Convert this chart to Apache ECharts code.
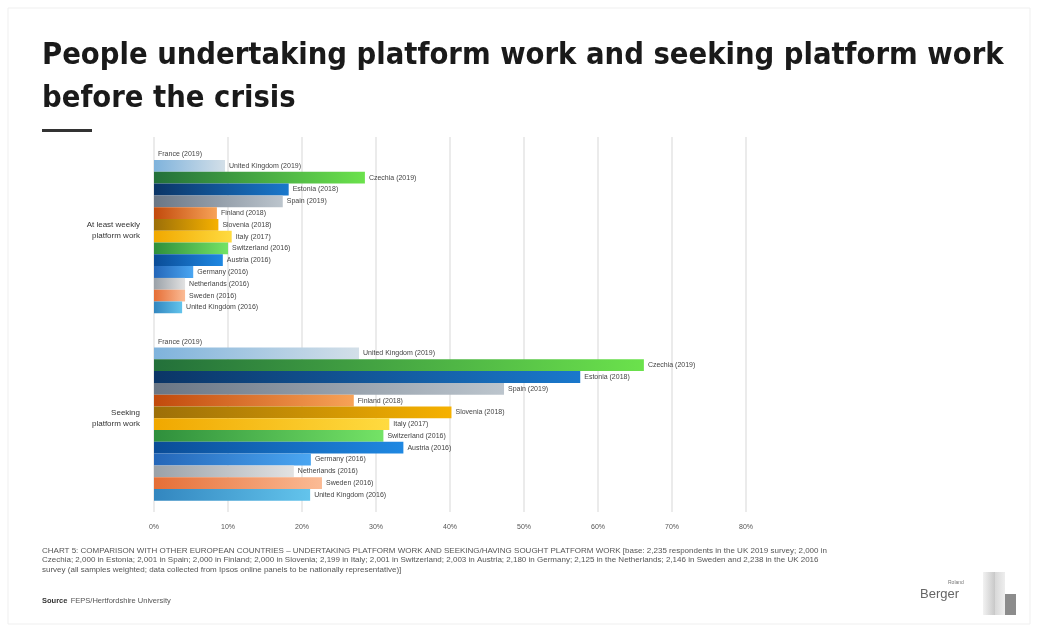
<!DOCTYPE html>
<html>
<head>
<meta charset="utf-8">
<script src="https://cdn.jsdelivr.net/npm/echarts@6/dist/echarts.min.js"></script>
<style>
html,body{margin:0;padding:0;background:#fff;}
#chart{width:1039px;height:631px;}
</style>
</head>
<body>
<div id="chart"></div>
<script>
// ---- data ----
const groups = ["At least weekly\nplatform work", "Seeking\nplatform work"];
const countries = ["France (2019)", "United Kingdom (2019)", "Czechia (2019)", "Estonia (2018)", "Spain (2019)",
  "Finland (2018)", "Slovenia (2018)", "Italy (2017)", "Switzerland (2016)", "Austria (2016)",
  "Germany (2016)", "Netherlands (2016)", "Sweden (2016)", "United Kingdom (2016)"];
const weeklyValues = [0, 9.6, 28.5, 18.2, 17.4, 8.5, 8.7, 10.5, 10.0, 9.3, 5.3, 4.2, 4.2, 3.8];
const seekingValues = [0, 27.7, 66.2, 57.6, 47.3, 27.0, 40.2, 31.8, 31.0, 33.7, 21.2, 18.9, 22.7, 21.1];
const xTicks = [0, 10, 20, 30, 40, 50, 60, 70, 80];

// ---- styles ----
const gradients = [
  ["#e8eef3", "#f4f6f8"],
  ["#7fb3dc", "#d3dfe8"],
  ["#23703a", "#6be24c"],
  ["#0b3566", "#1a78cc"],
  ["#6a7685", "#bcc5cd"],
  ["#c24a0c", "#f7a257"],
  ["#9c6f08", "#f6b100"],
  ["#f0a800", "#ffdb40"],
  ["#2f8f3c", "#74e366"],
  ["#0a4c97", "#1f88e2"],
  ["#2466b8", "#4aa6f2"],
  ["#9aa1a8", "#e2e2e2"],
  ["#e56e36", "#fbbb95"],
  ["#3286bf", "#63c4ec"]
];

const chart = echarts.init(document.getElementById('chart'));

const series = countries.map((name, i) => ({
  name: name,
  type: 'bar',
  barGap: '0%',
  barCategoryGap: '12%',
  data: [weeklyValues[i], seekingValues[i]],
  itemStyle: {
    color: new echarts.graphic.LinearGradient(0, 0, 1, 0, [
      { offset: 0, color: gradients[i][0] },
      { offset: 1, color: gradients[i][1] }
    ])
  },
  label: {
    show: true,
    position: 'right',
    distance: 4,
    formatter: name,
    fontSize: 7,
    color: '#444',
    fontFamily: 'Liberation Sans'
  },
  silent: true,
  animation: false
}));

const footnote =
"CHART 5: COMPARISON WITH OTHER EUROPEAN COUNTRIES – UNDERTAKING PLATFORM WORK AND SEEKING/HAVING SOUGHT PLATFORM WORK [base: 2,235 respondents in the UK 2019 survey; 2,000 in\n" +
"Czechia; 2,000 in Estonia; 2,001 in Spain; 2,000 in Finland; 2,000 in Slovenia; 2,199 in Italy; 2,001 in Switzerland; 2,003 in Austria; 2,180 in Germany; 2,125 in the Netherlands; 2,146 in Sweden and 2,238 in the UK 2016\n" +
"survey (all samples weighted; data collected from Ipsos online panels to be nationally representative)]";

chart.setOption({
  animation: false,
  backgroundColor: '#fff',
  grid: { left: 154, right: 293, top: 137, bottom: 119, containLabel: false },
  xAxis: {
    type: 'value',
    min: 0, max: 80, interval: 10,
    axisLabel: { formatter: v => xTicks.includes(v) ? v + '%' : '', fontSize: 7, color: '#555', margin: 12, fontFamily: 'Liberation Sans' },
    axisLine: { show: false },
    axisTick: { show: false },
    splitLine: { show: true, lineStyle: { color: '#e4e4e4', width: 1.5 } }
  },
  yAxis: {
    type: 'category',
    inverse: true,
    data: groups,
    axisLine: { show: false },
    axisTick: { show: false },
    axisLabel: { fontSize: 8, color: '#333', align: 'right', margin: 14, lineHeight: 11, fontFamily: 'Liberation Sans' }
  },
  series: series,
  graphic: [
    { type: 'rect', shape: { x: 8, y: 8, width: 1022, height: 616 }, style: { fill: 'none', stroke: '#efefef', lineWidth: 1 } },
    { type: 'text', left: 42, top: 35, style: { text: 'People undertaking platform work and seeking platform work\nbefore the crisis', font: 'bold 30.6px "DejaVu Sans Condensed", "DejaVu Sans"', fill: '#1a1a1a', lineHeight: 43 } },
    { type: 'rect', shape: { x: 42, y: 129, width: 50, height: 3 }, style: { fill: '#333' } },
    { type: 'text', left: 42, top: 546, style: { text: footnote, font: '8px "Liberation Sans"', fill: '#555', lineHeight: 9.5 } },
    { type: 'text', left: 42, top: 595, style: { rich: { b: { font: 'bold 7.5px "Liberation Sans"', fill: '#333' }, n: { font: '7.5px "Liberation Sans"', fill: '#555' } }, text: '{b|Source} {n|FEPS/Hertfordshire University}' } },
    { type: 'text', left: 948, top: 580, style: { text: 'Roland', font: '5px "Liberation Sans"', fill: '#777' } },
    { type: 'text', left: 920, top: 588, style: { text: 'Berger', font: '13px "Liberation Sans"', fill: '#666' } },
    { type: 'rect', shape: { x: 983, y: 572, width: 12, height: 43 }, style: { fill: new echarts.graphic.LinearGradient(0, 0, 1, 0, [{ offset: 0, color: '#f2f2f2' }, { offset: 1, color: '#c8c8c8' }]) } },
    { type: 'rect', shape: { x: 995, y: 572, width: 10, height: 43 }, style: { fill: new echarts.graphic.LinearGradient(0, 0, 1, 0, [{ offset: 0, color: '#d8d8d8' }, { offset: 1, color: '#eeeeee' }]) } },
    { type: 'rect', shape: { x: 1005, y: 594, width: 11, height: 21 }, style: { fill: '#8c8c8c' } }
  ]
});
</script>
</body>
</html>
